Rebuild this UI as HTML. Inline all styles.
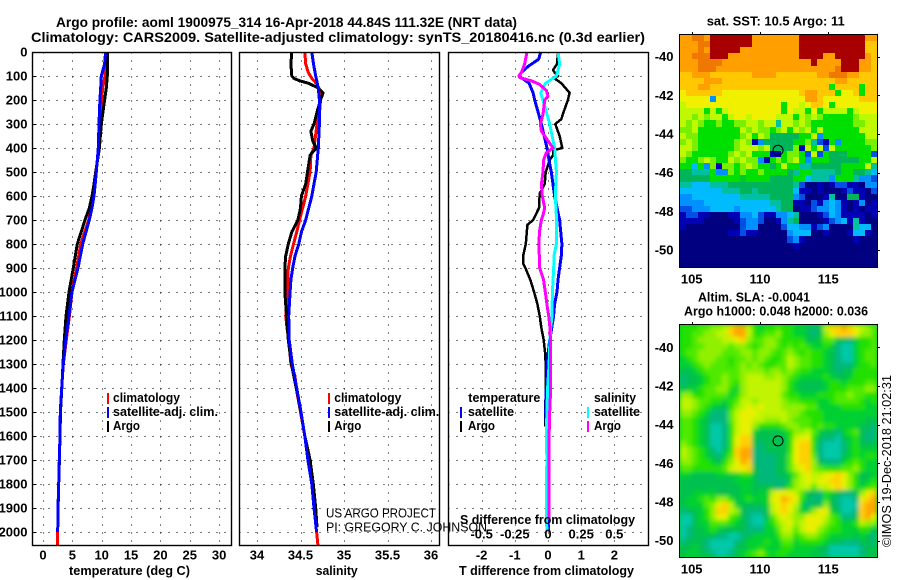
<!DOCTYPE html>
<html>
<head>
<meta charset="utf-8">
<title>Argo profile</title>
<style>
html,body{margin:0;padding:0;background:#fff;width:900px;height:580px;overflow:hidden}
svg{display:block}
text{font-family:"Liberation Sans",sans-serif;font-weight:bold;fill:#000;font-size:13px}
.thin{font-weight:normal}
</style>
</head>
<body>
<svg id="chart" xmlns="http://www.w3.org/2000/svg" width="900" height="580" viewBox="0 0 900 580">
  <defs>
    <filter id="soften" x="-5%" y="-5%" width="110%" height="110%"><feGaussianBlur stdDeviation="2.2"/></filter>
    <clipPath id="sla-clip"><rect x="680" y="325" width="197" height="232"/></clipPath>
  </defs>
  <g id="maps"></g>
  <g id="plots"></g>

  <text x="56" y="27" font-size="14" style="font-size:14px" textLength="461" lengthAdjust="spacingAndGlyphs">Argo profile: aoml 1900975_314 16-Apr-2018 44.84S 111.32E (NRT data)</text>
  <text x="31" y="42" style="font-size:14px" textLength="614" lengthAdjust="spacingAndGlyphs">Climatology: CARS2009. Satellite-adjusted climatology: synTS_20180416.nc (0.3d earlier)</text>

  <text x="69" y="575" textLength="121" lengthAdjust="spacingAndGlyphs">temperature (deg C)</text>
  <text x="315.7" y="575" textLength="42" lengthAdjust="spacingAndGlyphs">salinity</text>
  <text x="459" y="575" textLength="175" lengthAdjust="spacingAndGlyphs">T difference from climatology</text>
  <text x="460" y="524" textLength="175" lengthAdjust="spacingAndGlyphs">S difference from climatology</text>

  <g>
    <rect x="107" y="393" width="2" height="11" fill="#ff0000"/>
    <text x="113" y="402" textLength="67" lengthAdjust="spacingAndGlyphs">climatology</text>
    <rect x="107" y="407" width="2" height="11" fill="#0000ff"/>
    <text x="113" y="416" textLength="105" lengthAdjust="spacingAndGlyphs">satellite-adj. clim.</text>
    <rect x="107" y="421" width="2" height="11" fill="#000"/>
    <text x="113" y="430" textLength="27" lengthAdjust="spacingAndGlyphs">Argo</text>
  </g>
  <g>
    <rect x="328" y="393" width="2" height="11" fill="#ff0000"/>
    <text x="334.3" y="402" textLength="67" lengthAdjust="spacingAndGlyphs">climatology</text>
    <rect x="328" y="407" width="2" height="11" fill="#0000ff"/>
    <text x="334.3" y="416" textLength="105" lengthAdjust="spacingAndGlyphs">satellite-adj. clim.</text>
    <rect x="328" y="421" width="2" height="11" fill="#000"/>
    <text x="334.3" y="430" textLength="27" lengthAdjust="spacingAndGlyphs">Argo</text>
  </g>
  <g>
    <text x="468.3" y="402" textLength="72" lengthAdjust="spacingAndGlyphs">temperature</text>
    <rect x="460" y="407" width="2" height="11" fill="#0000ff"/>
    <text x="468" y="416" textLength="46" lengthAdjust="spacingAndGlyphs">satellite</text>
    <rect x="460" y="421" width="2" height="11" fill="#000"/>
    <text x="468" y="430" textLength="27" lengthAdjust="spacingAndGlyphs">Argo</text>
    <text x="594" y="402" textLength="42" lengthAdjust="spacingAndGlyphs">salinity</text>
    <rect x="587" y="407" width="2" height="11" fill="#00ffff"/>
    <text x="594" y="416" textLength="46" lengthAdjust="spacingAndGlyphs">satellite</text>
    <rect x="587" y="421" width="2" height="11" fill="#ff00ff"/>
    <text x="594" y="430" textLength="27" lengthAdjust="spacingAndGlyphs">Argo</text>
  </g>

  <text class="thin" x="326" y="517.5" textLength="110" lengthAdjust="spacingAndGlyphs">US ARGO PROJECT</text>
  <text class="thin" x="326" y="531.5" textLength="161" lengthAdjust="spacingAndGlyphs">PI: GREGORY C. JOHNSON</text>

  <text x="706.7" y="25.5" textLength="138" lengthAdjust="spacingAndGlyphs">sat. SST: 10.5 Argo: 11</text>
  <text x="698" y="301.5" textLength="112" lengthAdjust="spacingAndGlyphs">Altim. SLA: -0.0041</text>
  <text x="684" y="315.5" textLength="184" lengthAdjust="spacingAndGlyphs">Argo h1000: 0.048 h2000: 0.036</text>
  <text class="thin" transform="translate(891 547) rotate(-90)" x="0" y="0" textLength="172" lengthAdjust="spacingAndGlyphs">©IMOS 19-Dec-2018 21:02:31</text>
</svg>

<script>
// ---- axis tick data ----
const depthTicks = [0,100,200,300,400,500,600,700,800,900,1000,1100,1200,1300,1400,1500,1600,1700,1800,1900,2000];
const tempTicks = [0,5,10,15,20,25,30];
const salTicks = [34,34.5,35,35.5,36];
const salTickLabels = ['34','34.5','35','35.5','36'];
const tDiffTicks = [-2,-1,0,1,2];
const sDiffTicks = [-0.5,-0.25,0,0.25,0.5];
const sDiffTickLabels = ['-0.5','-0.25','0','0.25','0.5'];
const lonTicks = [105,110,115];
const latTicks = [-40,-42,-44,-46,-48,-50];
const profileLon = 111.32;
const profileLat = -44.84;

// ---- temperature profiles ----
const tempDepths = [0,50,100,150,200,300,400,500,550,600,650,700,800,900,1000,1100,1200,1300,1400,1500,1600,1700,1800,1900,2000,2054];
const argoTemp = [11.0,11.0,10.96,10.79,10.5,9.94,9.6,8.97,8.69,8.35,7.89,7.15,5.85,5.17,4.43,3.92,3.63,3.4,3.2,2.98,2.9,2.8,2.68,2.58];
const climTemp = [10.85,10.7,10.56,10.16,10.0,9.77,9.5,9.03,8.8,8.58,8.25,7.78,6.42,5.73,4.94,4.49,3.97,3.45,3.18,2.95,2.9,2.78,2.67,2.56,2.5,2.44];
const satTemp = [10.67,10.5,9.94,9.83,9.7,9.54,9.42,9.08,8.9,8.69,8.35,7.89,6.76,5.96,4.94,4.43,3.86,3.45,3.18,2.95,2.9,2.78,2.67,2.56,2.5];

// ---- salinity profiles ----
const argoSalDepths = [0,50,100,110,120,130,150,170,200,250,300,330,370,400,430,500,550,600,650,700,750,800,850,900,1000,1050,1100,1200,1300,1400,1500,1600,1700,1800,1900,1980];
const argoSal = [34.40,34.39,34.40,34.425,34.49,34.59,34.705,34.76,34.73,34.69,34.655,34.62,34.64,34.68,34.61,34.58,34.56,34.51,34.50,34.47,34.40,34.36,34.33,34.32,34.32,34.33,34.34,34.36,34.395,34.45,34.505,34.55,34.61,34.647,34.675,34.69];
const climSalDepths = [0,50,85,110,130,170,200,250,300,400,430,500,600,700,750,800,850,900,1000,1100,1150,1200,1300,1350,1400,1500,1600,1700,1800,1900,2000,2054];
const climSal = [34.55,34.56,34.59,34.63,34.68,34.74,34.73,34.72,34.69,34.655,34.62,34.61,34.56,34.49,34.456,34.42,34.385,34.36,34.35,34.33,34.345,34.364,34.39,34.437,34.45,34.5,34.55,34.585,34.63,34.655,34.685,34.70];
const satSalDepths = [0,50,100,150,200,300,400,500,600,700,750,800,850,900,950,1000,1100,1200,1300,1400,1500,1600,1700,1800,1900,2000];
const satSal = [34.63,34.65,34.675,34.705,34.717,34.717,34.705,34.68,34.63,34.56,34.51,34.48,34.437,34.41,34.39,34.38,34.364,34.37,34.406,34.456,34.506,34.55,34.585,34.63,34.655,34.685];

// ---- difference profiles ----
const argoTDiffDepths = [0,50,75,85,100,110,130,170,200,250,280,300,350,400,410,430,450,500,550,590,650,700,720,800,850,880,900,950,1000,1050,1100,1150,1200,1250,1300,1400,1500,1560];
const argoTDiff = [0.30,0.27,0.15,0.2,0.30,0.2,0.40,0.65,0.60,0.47,0.40,0.22,0.35,0.43,0.15,0.15,0.05,-0.07,-0.10,-0.25,-0.27,-0.45,-0.62,-0.67,-0.75,-0.75,-0.68,-0.53,-0.42,-0.32,-0.25,-0.20,-0.13,-0.09,-0.07,-0.07,-0.08,-0.08];
const satTDiffDepths = [0,30,60,85,100,130,170,200,300,400,450,500,600,700,800,850,900,950,1000,1050,1100,1150,1200,1250,1300,1400,1500,1600,1700,1800,1900,2000];
const satTDiff = [-0.22,-0.28,-0.60,-0.80,-0.87,-0.57,-0.45,-0.40,-0.20,-0.03,0.03,0.10,0.20,0.35,0.42,0.40,0.35,0.30,0.27,0.20,0.17,0.11,0.05,0.01,-0.02,-0.05,-0.07,-0.03,-0.02,-0.03,-0.02,0.02];
const satSDiffDepths = [0,50,100,130,170,200,300,400,500,600,700,800,850,900,1000,1100,1150,1200,1300,1400,1500,1600,1700,1800,1900,2000];
const satSDiff = [0.075,0.088,0.063,-0.018,-0.055,-0.038,0.013,0.05,0.063,0.055,0.065,0.063,0.045,0.043,0.033,0.03,0.02,0.015,0.008,-0.003,-0.008,-0.013,-0.008,-0.013,-0.013,-0.008];
const argoSDiffDepths = [0,50,85,100,107,120,135,160,185,200,260,300,330,360,400,420,450,500,550,600,650,680,700,750,800,900,950,1000,1050,1100,1150,1200,1300,1400,1500,1600,1700,1800,1950];
const argoSDiff = [-0.158,-0.176,-0.2,-0.22,-0.21,-0.126,-0.063,-0.013,0,-0.025,-0.038,-0.058,-0.05,-0.013,0.038,-0.013,-0.033,-0.038,-0.05,-0.043,-0.025,-0.038,-0.05,-0.065,-0.068,-0.063,-0.033,-0.02,-0.008,0.005,0.015,0.018,0.02,0.02,0.013,0.008,0.008,0.008,0.008];

// ---- map grids (each character is one colour level, 0 = coldest/lowest) ----
const sstLevels = [
"ddeedfffffffddddddddfffffffffffdd",
"dddeefffffffddddddddfffffffffffcc",
"dddedfffffddddddddddfffffffffffcc",
"ddeeefffddddddddddddffffddfffffdc",
"dddeeeedddddddddddddddfddddfffddc",
"dddeeeddddddddddddddddddddefffddc",
"ccdddcccccccddddcccccccddeeeddccc",
"ccccdddcccccccccccccccccccddccccc",
"cccddcccccccccccccccccccc8cccc8cc",
"bccccccbbbbbbbbbbbbbcddccc8bbc8cc",
"bbbbb3bbbbbbbbbbbbbbbddcbbbbbbccc",
"abbbbbbbbbbbbbbbb8bbabccb8bbbbbbb",
"aaaa8a8abbbbbbbbb8baa8b8aaaa8abbb",
"aa9a9aa8abbabbbbaaa8a9a9888889aaa",
"a9a98898899aa9aa5aa9a9888888899aa",
"99a8888888a9a9989a8a9a8a888888aaa",
"a9988888889a8a96666688a38888888aa",
"9a98888889a9136666688952183888899",
"aa98888889aaa9a666691a8a2a8888889",
"a98888889a9a8881189982a2866688882",
"9889a988a9a99318989a838886666688a",
"88483919989a98868a8855666668888a5",
"665558339898898888658855556886654",
"666668888878888666688455538885332",
"554445556666666666652001012211033",
"444444455566566666641101000121102",
"334444444455555666632000150066100",
"333344444444444556611021343101301",
"223334444344444456601123343101011",
"122110001133421133450001243111101",
"111100000123320013560000123415100",
"100000000023300002443312300005440",
"000000001121100000344400100014410",
"000000000000000000231000000001000",
"000000000000000000010000000000000",
"000000000000000000000000000000000",
"000000000000000000000000000000000",
"000000000000000000000000000000000"
];
const sstColors = ["#000080","#0000b4","#0050e6","#0090ff","#00bcff","#00c0a0","#00b45a","#00c828","#00e000","#78f000","#c0f800","#f0f000","#ffc800","#ffa000","#f07800","#a80000"];

const slaLevels = [
"444556679aa7434454433212799a98765",
"445566779aa7445564433212689998665",
"445666677896556654444223552213445",
"445566665665456654545433431003445",
"455666655566566545654544321003455",
"345666554556565445765544321003455",
"334565554565654455765544321113445",
"223455555566665665654433321224444",
"122345565567776676543333432234444",
"122345565467777776432222344344455",
"233455664367777776432222344455566",
"664455553467777775443334445565544",
"776554434577677776554443345555434",
"776543224678787776666553333444433",
"665431115788877777665444333333333",
"554321115788776667655544333333322",
"554320014788644445665545443333221",
"554320014788322223466753221345211",
"554320014899222222478842110234211",
"654320014899212222489941000134222",
"7654310249aa112222489941000134333",
"7654321359aa111122589951000234344",
"6654432468a9111122589962111345433",
"554444457889211122578965444556433",
"332222333344211122357877889864223",
"222222222333211111367878899864234",
"222222222233222212467757789864345",
"223333222233233788875221432112689",
"23345466423433388a98421142100189a",
"2333568973222237898731226210009aa",
"1223469976211127898633688320019aa",
"0023468854210025787668887541129a8",
"002335554321003467867888654334766",
"012234322221113357757886544333442",
"012222110012333346645665433332321",
"122210000123334335534444322111221",
"223210000223343334433332200000122",
"233221001234564344333322100000122"
];
const slaColors = ["#00c8a8","#00b87c","#00c050","#00d030","#20e000","#50ea00","#90f000","#c0f400","#e8f000","#ffd000","#ffa800"];

// ---- scales ----
const SVG_NS = 'http://www.w3.org/2000/svg';
const yDepth = d => 52 + 0.24 * d;
const xTemp = t => 43 + 5.87 * t;
const xSal = s => 257 + 87 * (s - 34);
const xTDiff = t => 548 + 33.2 * t;
const xSDiff = s => 548 + 132.7 * s;
const xLon = lon => 691.7 + 13.66 * (lon - 105);
const yLat1 = lat => 56.7 + 19.33 * (-40 - lat);
const yLat2 = lat => 347.3 + 19.33 * (-40 - lat);

const panelTop = 52.5, panelBottom = 545.5;
const panels = [
  {left: 32.5, right: 231.5},
  {left: 239.5, right: 439.5},
  {left: 448.5, right: 648.5}
];

const plots = document.getElementById('plots');
const maps = document.getElementById('maps');

function mk(tag, attrs, parent) {
  const el = document.createElementNS(SVG_NS, tag);
  for (const k in attrs) el.setAttribute(k, attrs[k]);
  parent.appendChild(el);
  return el;
}

function label(parent, str, x, y, anchor, name) {
  const el = mk('text', {x: x, y: y, 'text-anchor': anchor}, parent);
  
  
  el.textContent = str;
  return el;
}

function gridH(parent, panel, y) {
  const el = mk('line', {x1: panel.left, x2: panel.right, y1: Math.round(y) + 0.5, y2: Math.round(y) + 0.5, stroke: '#000', 'stroke-width': 1, 'stroke-dasharray': '1 7', 'shape-rendering': 'crispEdges'}, parent);
  
  
}

function gridV(parent, x) {
  const el = mk('line', {x1: Math.round(x) + 0.5, x2: Math.round(x) + 0.5, y1: panelTop, y2: panelBottom, stroke: '#000', 'stroke-width': 1, 'stroke-dasharray': '1 7', 'shape-rendering': 'crispEdges'}, parent);
  
  
}

function curve(parent, depths, values, xFn, color, name, width) {
  let pts = '';
  for (let i = 0; i < values.length; i++) {
    pts += xFn(values[i]).toFixed(1) + ',' + yDepth(depths[i]).toFixed(1) + ' ';
  }
  const el = mk('polyline', {points: pts, fill: 'none', stroke: color, 'stroke-width': width, 'shape-rendering': 'crispEdges', 'stroke-linejoin': 'round'}, parent);
  
  
}

// ---- profile panels ----
panels.forEach((panel, idx) => {
  const g = mk('g', {}, plots);
  
  
  depthTicks.forEach(d => gridH(g, panel, yDepth(d)));
});

const p1 = plots.children[0], p2 = plots.children[1], p3 = plots.children[2];
tempTicks.forEach(t => gridV(p1, xTemp(t)));
salTicks.forEach(s => gridV(p2, xSal(s)));
tDiffTicks.forEach(t => gridV(p3, xTDiff(t)));

curve(p1, tempDepths, climTemp, xTemp, '#ff0000', 'climatology-temperature-line', 3);
curve(p1, tempDepths, argoTemp, xTemp, '#000000', 'argo-temperature-line', 3);
curve(p1, tempDepths, satTemp, xTemp, '#0000ff', 'satellite-temperature-line', 3);

curve(p2, climSalDepths, climSal, xSal, '#ff0000', 'climatology-salinity-line', 3);
curve(p2, argoSalDepths, argoSal, xSal, '#000000', 'argo-salinity-line', 3);
curve(p2, satSalDepths, satSal, xSal, '#0000ff', 'satellite-salinity-line', 3);

curve(p3, argoTDiffDepths, argoTDiff, xTDiff, '#000000', 'argo-t-difference-line', 2.5);
curve(p3, satTDiffDepths, satTDiff, xTDiff, '#0000ff', 'satellite-t-difference-line', 3);
curve(p3, satSDiffDepths, satSDiff, xSDiff, '#00ffff', 'satellite-s-difference-line', 3);
curve(p3, argoSDiffDepths, argoSDiff, xSDiff, '#ff00ff', 'argo-s-difference-line', 3);

panels.forEach((panel, idx) => {
  const frame = mk('rect', {x: panel.left, y: panelTop, width: panel.right - panel.left, height: panelBottom - panelTop, fill: 'none', stroke: '#000', 'stroke-width': 1.4}, plots.children[idx]);
  
  
});

depthTicks.forEach(d => {
  const tick = mk('line', {x1: 32.5, x2: 36.5, y1: Math.round(yDepth(d)) + 0.5, y2: Math.round(yDepth(d)) + 0.5, stroke: '#000', 'stroke-width': 1, 'shape-rendering': 'crispEdges'}, p1);
  
  
  label(p1, String(d), 27.5, yDepth(d) + 4.5, 'end', 'depth-tick-label');
});
tempTicks.forEach(t => label(p1, String(t), xTemp(t), 559.5, 'middle', 'temperature-tick-label'));
salTicks.forEach((s, i) => label(p2, salTickLabels[i], xSal(s), 559.5, 'middle', 'salinity-tick-label'));
tDiffTicks.forEach(t => label(p3, String(t), xTDiff(t), 559.5, 'middle', 't-difference-tick-label'));
sDiffTicks.forEach((s, i) => label(p3, sDiffTickLabels[i], xSDiff(s), 538.5, 'middle', 's-difference-tick-label'));

// ---- maps ----
function heatmap(name, rows, colors, x0, y0, w, h, yLat, smooth) {
  const g = mk('g', {}, maps);
  
  
  const holder = mk('g', smooth ? {'clip-path': 'url(#sla-clip)'} : {}, g);
  
  
  if (smooth) {
    const under = mk('rect', {x: x0, y: y0, width: w, height: h, fill: colors[3]}, holder);
    
    
  }
  const cells = mk('g', smooth ? {filter: 'url(#soften)', 'shape-rendering': 'crispEdges'} : {'shape-rendering': 'crispEdges'}, holder);
  
  
  const nRows = rows.length, nCols = rows[0].length;
  const cw = w / nCols, ch = h / nRows;
  rows.forEach((row, r) => {
    for (let c = 0; c < nCols; c++) {
      const level = parseInt(row[c] !== undefined ? row[c] : row[row.length - 1], 16);
      const cx = Math.round(x0 + c * cw), cy = Math.round(y0 + r * ch);
      const cell = mk('rect', {x: cx, y: cy, width: Math.round(x0 + (c + 1) * cw) - cx, height: Math.round(y0 + (r + 1) * ch) - cy, fill: colors[level]}, cells);
      
      
    }
  });
  const frame = mk('rect', {x: x0 - 0.5, y: y0 - 0.5, width: w + 1, height: h + 1, fill: 'none', stroke: '#000', 'stroke-width': 1, 'shape-rendering': 'crispEdges'}, g);
  
  
  lonTicks.forEach(lon => {
    const xt = Math.round(xLon(lon)) + 0.5;
    const tick = mk('line', {x1: xt, x2: xt, y1: y0 - 3, y2: y0, stroke: '#000', 'stroke-width': 1}, g);
    
    
  });
  latTicks.forEach(lat => {
    const yt = Math.round(yLat(lat)) + 0.5;
    const tick = mk('line', {x1: x0 + w, x2: x0 + w + 3, y1: yt, y2: yt, stroke: '#000', 'stroke-width': 1}, g);
    
    
    label(maps, String(lat), 673.5, yLat(lat) + 4.5, 'end', 'latitude-tick-label');
  });
  const marker = mk('circle', {cx: xLon(profileLon), cy: yLat(profileLat), r: 5, fill: 'none', stroke: '#000', 'stroke-width': 1}, maps);
  
  
}

heatmap('sst-map', sstLevels, sstColors, 680, 35, 197, 232, yLat1, false);
heatmap('sla-map', slaLevels, slaColors, 680, 325, 197, 232, yLat2, true);
lonTicks.forEach(lon => {
  label(maps, String(lon), xLon(lon), 283.5, 'middle', 'sst-longitude-tick-label');
  label(maps, String(lon), xLon(lon), 573.5, 'middle', 'sla-longitude-tick-label');
});
</script>
</body>
</html>
